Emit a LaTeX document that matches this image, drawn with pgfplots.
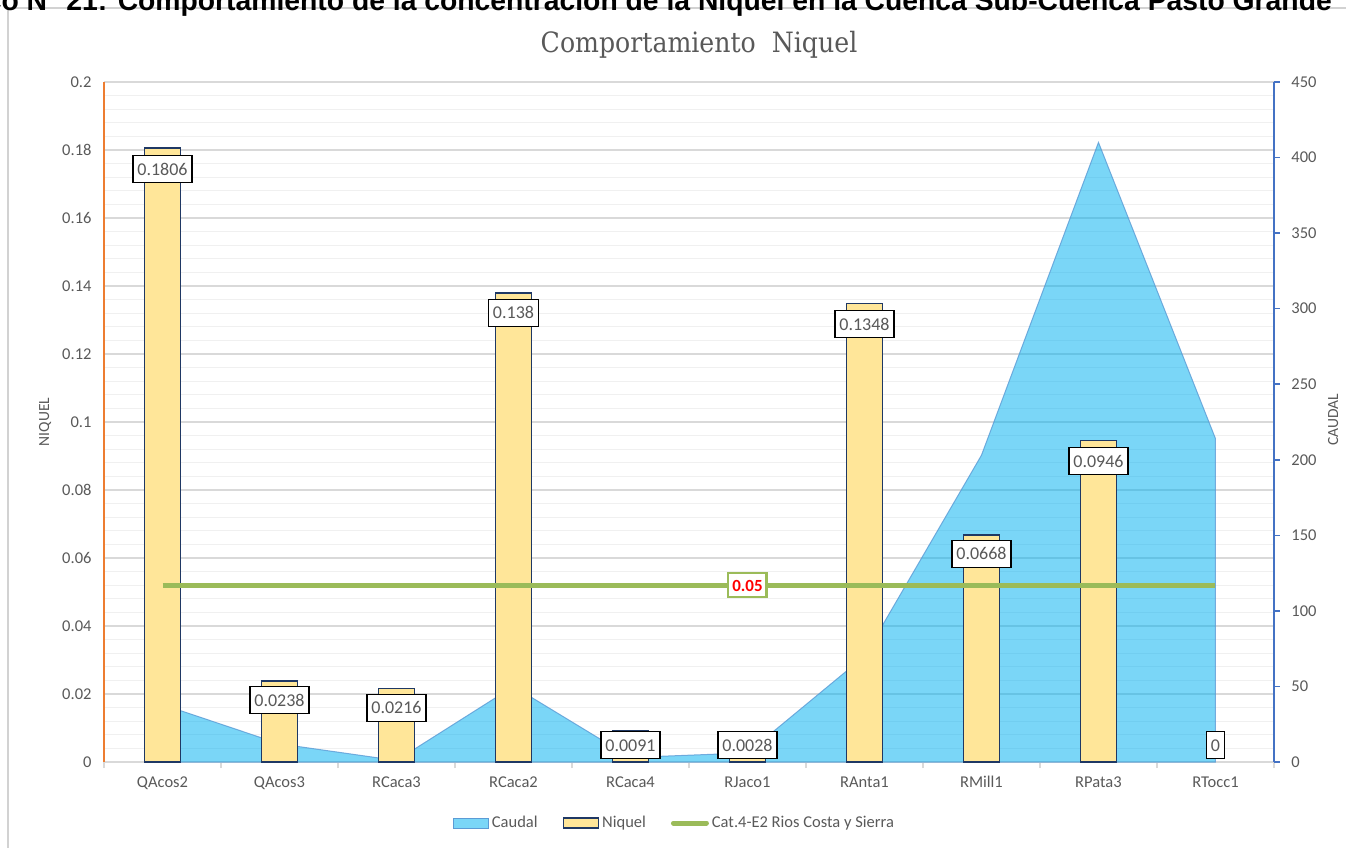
\documentclass[border=0pt]{standalone}
\usepackage{pgfplots}
\pgfplotsset{compat=1.18}
\usepackage{fontspec}
\setmainfont{Carlito}
\newfontfamily\titlefont{DejaVu Serif Condensed}
\newfontfamily\headfont{Liberation Sans}
\definecolor{tickgray}{RGB}{89,89,89}
\definecolor{gridmaj}{RGB}{217,217,217}
\definecolor{gridmin}{RGB}{240,240,240}
\definecolor{barfill}{RGB}{255,230,153}
\definecolor{barline}{RGB}{31,56,100}
\definecolor{areafill}{RGB}{0,176,240}
\definecolor{arealine}{RGB}{91,155,213}
\definecolor{leftax}{RGB}{237,125,49}
\definecolor{rightax}{RGB}{68,114,196}
\definecolor{limitgreen}{RGB}{155,187,89}
\definecolor{framegray}{RGB}{210,210,210}

\pgfplotsset{
  boxlegend/.style={legend image code/.code={\draw[##1] (0bp,-5bp) rectangle (35bp,5bp);}},
  linelegend/.style={legend image code/.code={\draw[##1] (3bp,0bp) -- (36bp,0bp);}},
}

\pgfplotstableread{
x niquel lab ly
0 0.1806 0.1806 0.1744
1 0.0238 0.0238 0.0182
2 0.0216 0.0216 0.0159
3 0.1380 0.138  0.1321
4 0.0091 0.0091 0.0050
5 0.0028 0.0028 0.0050
6 0.1348 0.1348 0.1288
7 0.0668 0.0668 0.0612
8 0.0946 0.0946 0.0885
9 0.0000 0     0.0050
}\niqueldata

\pgfplotstableread{
x caudal
0 38
1 12
2 1
3 50
4 3
5 6
6 70
7 203
8 410
9 214
}\caudaldata

\begin{document}
\begin{tikzpicture}[x=1bp,y=1bp]
\useasboundingbox (0,0) rectangle (1346,847);
% chart frame
\draw[framegray, line width=1.2bp] (8,-10) -- (8,839) -- (1360,839);
% header text (cut at the top, as in the reference)
\node[anchor=base east, inner sep=0, font=\headfont\bfseries\fontsize{28.3bp}{32bp}\selectfont] at (1332,836) {Gráfico N° 21: Comportamiento de la concentración de la Niquel en la Cuenca Sub-Cuenca Pasto Grande};
% title
\node[font=\titlefont\fontsize{28bp}{32bp}\selectfont, text=tickgray] at (699,802) {Comportamiento\ \ Niquel};

% Axis 1: grid, left axis, category axis
\begin{axis}[at={(104bp,85bp)}, anchor=south west, width=1170bp, height=680bp, scale only axis,
  xmin=-0.5, xmax=9.5, ymin=0, ymax=0.2,
  axis x line*=bottom, axis y line*=left,
  x axis line style={gridmaj, line width=1.2bp, -},
  y axis line style={leftax, line width=1.5bp, -},
  ytick={0,0.02,...,0.2001}, minor y tick num=4,
  ymajorgrids, yminorgrids,
  major grid style={gridmaj, line width=1.2bp},
  minor grid style={gridmin, line width=1.2bp},
  xtick={0,...,9},
  xticklabels={QAcos2,QAcos3,RCaca3,RCaca2,RCaca4,RJaco1,RAnta1,RMill1,RPata3,RTocc1},
  minor xtick={-0.5,0.5,...,9.5},
  major tick length=0pt, minor tick length=6bp, tick align=outside,
  x tick style={gridmaj, line width=1.2bp},
  y tick style={draw=none},
  /pgf/number format/assume math mode=true,
  yticklabel style={/pgf/number format/fixed, /pgf/number format/precision=2, xshift=-9bp},
  ticklabel style={font=\fontsize{16.5bp}{20bp}\selectfont, text=tickgray},
  xticklabel style={yshift=-11bp},
  ylabel={NIQUEL},
  every axis y label/.style={at={(-59bp,340bp)}, rotate=90, anchor=center,
    font=\fontsize{15.5bp}{18bp}\selectfont, text=tickgray},
]
\end{axis}

% Axis 2: caudal area, right axis
\begin{axis}[at={(104bp,85bp)}, anchor=south west, width=1170bp, height=680bp, scale only axis,
  xmin=-0.5, xmax=9.5, ymin=0, ymax=450,
  axis y line*=right, axis x line=none,
  y axis line style={rightax, line width=1.5bp, -},
  ytick={0,50,...,450},
  tick align=outside, major tick length=6bp,
  y tick style={rightax, line width=1.5bp},
  /pgf/number format/assume math mode=true,
  yticklabel style={font=\fontsize{16.5bp}{20bp}\selectfont, text=tickgray, xshift=8bp},
  ylabel={CAUDAL},
  every axis y label/.style={at={(1229bp,342bp)}, rotate=90, anchor=center,
    font=\fontsize{15.5bp}{18bp}\selectfont, text=tickgray},
]
\addplot[fill=areafill, fill opacity=0.52, draw=arealine, draw opacity=0.8, line width=1bp]
  table[x=x, y=caudal] {\caudaldata} \closedcycle;
\end{axis}

% Axis 3: bars, limit line, labels, legend
\begin{axis}[at={(104bp,85bp)}, anchor=south west, width=1170bp, height=680bp, scale only axis,
  xmin=-0.5, xmax=9.5, ymin=0, ymax=0.2,
  hide axis, clip=false,
  legend columns=3,
  legend style={draw=none, fill=none, at={(0.488,-0.0897)}, anchor=center,
    font=\fontsize{16.5bp}{19bp}\selectfont, text=tickgray,
    /tikz/every even column/.append style={column sep=22bp},
    nodes={inner xsep=3bp, inner ysep=2bp}},
]
\addlegendimage{boxlegend, fill=areafill, fill opacity=0.52, draw=arealine, line width=1bp}
\addlegendentry{Caudal}
\addlegendimage{boxlegend, fill=barfill, draw=barline, line width=1.5bp}
\addlegendentry{Niquel}
\addlegendimage{linelegend, limitgreen, line width=5bp, line cap=round}
\addlegendentry{Cat.4-E2 Rios Costa y Sierra}

\addplot[forget plot, ybar, bar width=0.31, fill=barfill, draw=barline, line width=1.6bp,
  skip coords between index={9}{10}]
  table[x=x, y=niquel] {\niqueldata};
\addplot[forget plot, limitgreen, line width=5bp] coordinates {(0,0.052) (9,0.052)};
\addplot[forget plot, draw=none, mark=none, nodes near coords, point meta=explicit symbolic,
  nodes near coords style={anchor=center, draw=black, line width=1.6bp, fill=white,
    font=\fontsize{18bp}{20bp}\selectfont, text=tickgray, text height=12bp, text depth=0bp,
    inner xsep=4.5bp, inner ysep=7.5bp}]
  table[x=x, y=ly, meta=lab] {\niqueldata};
\addplot[forget plot, draw=none, mark=none, nodes near coords, point meta=explicit symbolic,
  nodes near coords style={anchor=center, draw=limitgreen, line width=2.4bp, fill=white,
    font=\bfseries\fontsize{17bp}{20bp}\selectfont, text=red, text height=12bp, text depth=0bp,
    inner xsep=4bp, inner ysep=6bp}]
  coordinates {(5,0.052) [0.05]};
\end{axis}
\end{tikzpicture}
\end{document}
